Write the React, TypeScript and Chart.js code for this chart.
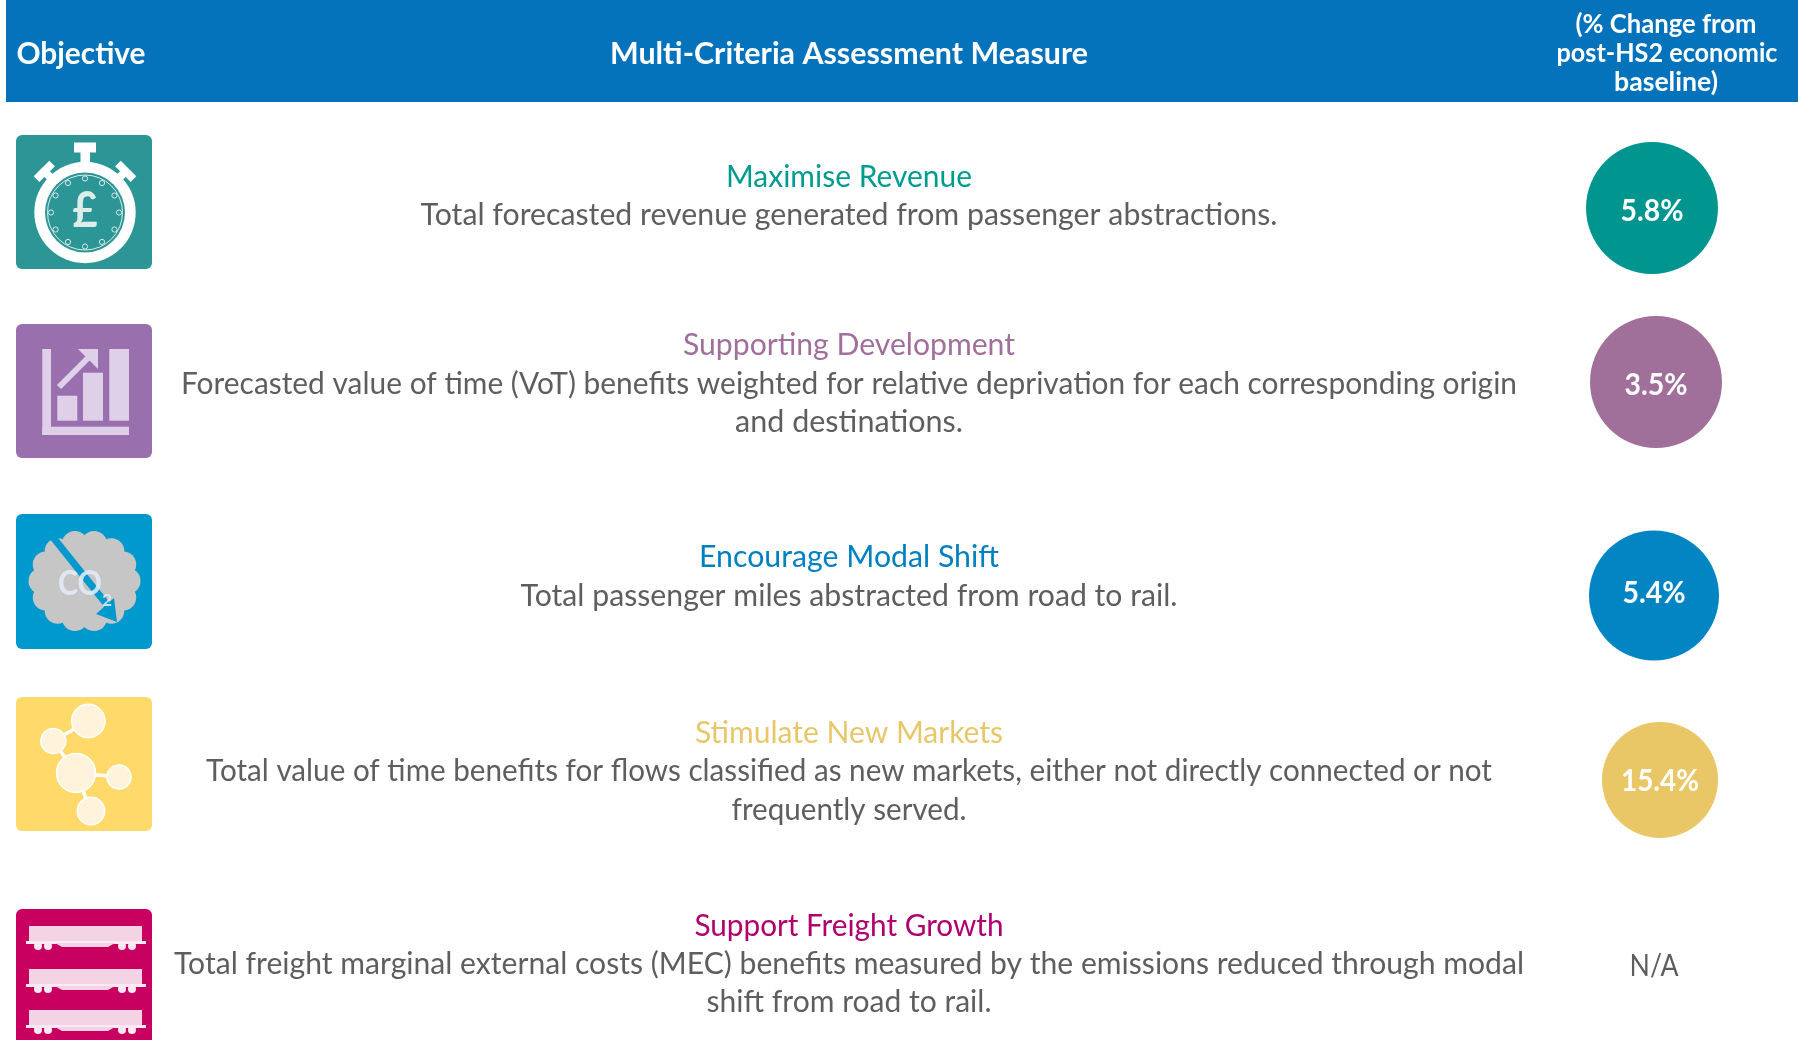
import React, { useEffect, useRef } from "react";
import { Chart, registerables, CategoryScale } from "chart.js";

// ---------- data ----------
const objectives = [
  "Maximise Revenue",
  "Supporting Development",
  "Encourage Modal Shift",
  "Stimulate New Markets",
  "Support Freight Growth",
];
const changeValues = [5.8, 3.5, 5.4, 15.4, null];
const changeLabels = changeValues.map((v) => (v === null ? "N/A" : `${v}%`));
const measureLines = [
  ["Total forecasted revenue generated from passenger abstractions."],
  [
    "Forecasted value of time (VoT) benefits weighted for relative deprivation for each corresponding origin",
    "and destinations.",
  ],
  ["Total passenger miles abstracted from road to rail."],
  [
    "Total value of time benefits for flows classified as new markets, either not directly connected or not",
    "frequently served.",
  ],
  [
    "Total freight marginal external costs (MEC) benefits measured by the emissions reduced through modal",
    "shift from road to rail.",
  ],
];
const headers = ["Objective", "Multi-Criteria Assessment Measure"];
const changeHeader = ["(% Change from", "post-HS2 economic", "baseline)"];

// ---------- layout & style (kept apart from the data) ----------
const W = 1798;
const H = 1040;
const BADGE_X = [1652, 1656, 1654, 1660, 1654];
const ROW_Y = [208, 382, 595.5, 780, 965];
const BADGE_R = [66, 66, 65, 58];
const BADGE_BASE = [12.7, 13, 7, 11, 11];
const BADGE_W = [63, 63, 63, 78, 49];
const BADGE_COL = ["#00968F", "#A0709A", "#0285C2", "#E9C766"];
const TITLE_COL = ["#009B8F", "#A0709A", "#0080C0", "#E8C66A", "#B0006E"];
const TITLE_BASE = [187, 355, 567, 743, 936];
const TITLE_W = [246, 332, 300, 308, 309];
const DESC_BASE = [[224.5], [394, 432], [606], [781, 820], [974, 1012]];
const DESC_W = [[857], [1336, 228], [657], [1286, 235], [1350, 285]];
const MID_X = 849;
const BODY = "Lato";

class TableScale extends CategoryScale {
  static id = "table";
  getPixelForValue(value: any) {
    const i = typeof value === "number" ? value : (this as any).parse(value);
    return ((this as any).axis === "x" ? BADGE_X : ROW_Y)[i];
  }
}

Chart.register(...registerables, TableScale as any);

function fit(ctx: CanvasRenderingContext2D, text: string, cx: number, y: number, w: number) {
  ctx.save();
  ctx.textAlign = "center";
  ctx.textBaseline = "alphabetic";
  const natural = ctx.measureText(text).width;
  ctx.translate(cx, y);
  ctx.scale(w / natural, 1);
  ctx.fillText(text, 0, 0);
  ctx.restore();
}

function box(ctx: CanvasRenderingContext2D, top: number, bottom: number, col: string) {
  ctx.fillStyle = col;
  ctx.beginPath();
  ctx.roundRect(16, top, 136, bottom - top, 6);
  ctx.fill();
}

function disc(ctx: CanvasRenderingContext2D, x: number, y: number, r: number) {
  ctx.beginPath();
  ctx.arc(x, y, r, 0, Math.PI * 2);
  ctx.fill();
}

function stopwatch(ctx: CanvasRenderingContext2D) {
  box(ctx, 135, 269, "#2C9595");
  const cx = 85, cy = 212.5;
  ctx.fillStyle = "#FFFFFF";
  ctx.fillRect(74, 142.5, 22, 10);
  ctx.fillRect(80.5, 152, 9.5, 14);
  for (const [kx, ang] of [[45, -Math.PI / 4], [125, Math.PI / 4]] as [number, number][]) {
    ctx.save();
    ctx.translate(kx, 172);
    ctx.rotate(ang);
    ctx.fillRect(-11, -5, 22, 8);
    ctx.fillRect(-4, 2, 8, 10);
    ctx.restore();
  }
  disc(ctx, cx, cy, 50.7);
  ctx.fillStyle = "#2C9595";
  disc(ctx, cx, cy, 40);
  ctx.strokeStyle = "#D8ECEA";
  ctx.lineWidth = 1;
  ctx.beginPath();
  ctx.arc(cx, cy, 37.5, 0, Math.PI * 2);
  ctx.stroke();
  for (let k = 0; k < 12; k++) {
    const a = (k * Math.PI) / 6;
    ctx.fillStyle = "#2C9595";
    ctx.beginPath();
    ctx.arc(cx + Math.cos(a) * 34, cy + Math.sin(a) * 34, 2.6, 0, Math.PI * 2);
    ctx.fill();
    ctx.stroke();
  }
  ctx.fillStyle = "#DCEEEA";
  ctx.font = `700 50px ${BODY}`;
  fit(ctx, "£", 85, 227, 25);
}

function barsIcon(ctx: CanvasRenderingContext2D) {
  box(ctx, 324, 458, "#9A6FAE");
  ctx.fillStyle = "#DDD0E8";
  ctx.fillRect(42.3, 349, 8.7, 86);
  ctx.fillRect(42.3, 426.7, 86.7, 8.3);
  ctx.fillRect(57.3, 395.7, 20, 25);
  ctx.fillRect(83, 372.7, 20, 48);
  ctx.fillRect(109.3, 349, 19.7, 71.7);
  ctx.strokeStyle = "#DDD0E8";
  ctx.lineWidth = 6;
  ctx.beginPath();
  ctx.moveTo(59, 387);
  ctx.lineTo(92, 354);
  ctx.stroke();
  ctx.beginPath();
  ctx.moveTo(78, 349);
  ctx.lineTo(98, 349);
  ctx.lineTo(98, 369);
  ctx.closePath();
  ctx.fill();
}

function cloudIcon(ctx: CanvasRenderingContext2D) {
  box(ctx, 514, 649, "#0099CE");
  const cx = 84.5, cy = 581;
  ctx.fillStyle = "#C6C6C6";
  ctx.beginPath();
  ctx.ellipse(cx, cy, 46, 42, 0, 0, Math.PI * 2);
  ctx.fill();
  for (let k = 0; k < 14; k++) {
    const a = (k * Math.PI) / 7;
    disc(ctx, cx + Math.cos(a) * 43, cy + Math.sin(a) * 38, 13);
  }
  ctx.strokeStyle = "#0099CE";
  ctx.lineWidth = 7;
  ctx.beginPath();
  ctx.moveTo(52, 536);
  ctx.lineTo(108, 606);
  ctx.stroke();
  ctx.fillStyle = "#0099CE";
  ctx.beginPath();
  ctx.moveTo(117, 622);
  ctx.lineTo(96, 614);
  ctx.lineTo(114, 598);
  ctx.closePath();
  ctx.fill();
  ctx.fillStyle = "rgba(226,236,246,0.88)";
  ctx.font = `700 34px ${BODY}`;
  fit(ctx, "CO", 80, 595, 44);
  ctx.font = `700 17px ${BODY}`;
  fit(ctx, "2", 107, 606, 10);
}

function nodesIcon(ctx: CanvasRenderingContext2D) {
  box(ctx, 697, 831, "#FFD96A");
  const nodes = [
    [76, 773, 19.5],
    [88.3, 721, 16.7],
    [53.3, 741, 12.5],
    [119, 777, 12],
    [91, 811, 13.7],
  ];
  ctx.strokeStyle = "#FFFFFF";
  ctx.lineWidth = 3.5;
  const links = [[1, 2], [2, 0], [0, 3], [0, 4]];
  for (const [a, b] of links) {
    ctx.beginPath();
    ctx.moveTo(nodes[a][0], nodes[a][1]);
    ctx.lineTo(nodes[b][0], nodes[b][1]);
    ctx.stroke();
  }
  ctx.lineWidth = 1.5;
  for (const [x, y, r] of nodes) {
    ctx.fillStyle = "#FFF3DC";
    disc(ctx, x, y, r);
    ctx.beginPath();
    ctx.arc(x, y, r, 0, Math.PI * 2);
    ctx.stroke();
  }
}

function wagon(ctx: CanvasRenderingContext2D, top: number) {
  ctx.fillStyle = "#F3D3E4";
  ctx.fillRect(29, top, 113, 16);
  ctx.fillStyle = "#FBE9F3";
  ctx.fillRect(26, top + 15, 120, 3);
  ctx.fillStyle = "#F3D3E4";
  ctx.beginPath();
  ctx.moveTo(55, top + 17);
  ctx.lineTo(115, top + 17);
  ctx.lineTo(108, top + 21);
  ctx.lineTo(62, top + 21);
  ctx.closePath();
  ctx.fill();
  ctx.fillStyle = "#FBE9F3";
  for (const x of [38, 48, 122, 132]) disc(ctx, x, top + 20, 4);
}

function wagonsIcon(ctx: CanvasRenderingContext2D) {
  box(ctx, 909, 1060, "#C8005F");
  wagon(ctx, 926);
  wagon(ctx, 969);
  wagon(ctx, 1010);
}

const tablePlugin = {
  id: "table",
  beforeDatasetsDraw(chart: any) {
    const ctx: CanvasRenderingContext2D = chart.ctx;
    ctx.save();
    // header band
    ctx.fillStyle = "#0572BC";
    ctx.fillRect(6, 0, W - 6, 102);
    ctx.fillStyle = "#FFFFFF";
    ctx.font = `700 30px ${BODY}`;
    fit(ctx, headers[0], 81, 64, 129);
    fit(ctx, headers[1], MID_X, 64, 478);
    ctx.font = `700 26px ${BODY}`;
    fit(ctx, changeHeader[0], 1666, 33, 181);
    fit(ctx, changeHeader[1], 1667, 62, 221);
    fit(ctx, changeHeader[2], 1666, 91, 104);
    // icons
    stopwatch(ctx);
    barsIcon(ctx);
    cloudIcon(ctx);
    nodesIcon(ctx);
    wagonsIcon(ctx);
    // row text
    objectives.forEach((t, i) => {
      ctx.font = `400 30px ${BODY}`;
      ctx.fillStyle = TITLE_COL[i];
      fit(ctx, t, MID_X, TITLE_BASE[i], TITLE_W[i]);
      ctx.fillStyle = "#5E5E5E";
      measureLines[i].forEach((line, j) => {
        fit(ctx, line, MID_X, DESC_BASE[i][j], DESC_W[i][j]);
      });
    });
    ctx.restore();
  },
  afterDatasetsDraw(chart: any) {
    const ctx: CanvasRenderingContext2D = chart.ctx;
    ctx.save();
    changeLabels.forEach((t, i) => {
      const x = chart.scales.x.getPixelForValue(i);
      const y = chart.scales.y.getPixelForValue(i);
      const hasValue = changeValues[i] !== null;
      ctx.font = hasValue ? `700 31px ${BODY}` : `400 31px ${BODY}`;
      ctx.fillStyle = hasValue ? "#FFFFFF" : "#5E5E5E";
      fit(ctx, t, x, y + BADGE_BASE[i], BADGE_W[i]);
    });
    ctx.restore();
  },
};

export default function App() {
  const ref = useRef<HTMLCanvasElement>(null);
  useEffect(() => {
    document.body.style.margin = "0";
    const points = changeValues.flatMap((v, i) =>
      v === null ? [] : [{ x: changeLabels[i], y: objectives[i], r: BADGE_R[i] }]
    );
    const chart = new Chart(ref.current as HTMLCanvasElement, {
      type: "bubble",
      data: {
        datasets: [
          {
            label: "% Change from post-HS2 economic baseline",
            data: points as any,
            backgroundColor: BADGE_COL,
            borderWidth: 0,
            clip: false as any,
          },
        ],
      },
      options: {
        animation: false,
        responsive: false,
        events: [],
        layout: { padding: 0 },
        plugins: { legend: { display: false }, tooltip: { enabled: false } },
        scales: {
          x: { type: "table" as any, labels: changeLabels as any, display: false },
          y: { type: "table" as any, labels: objectives as any, display: false },
        },
      },
      plugins: [tablePlugin as any],
    });
    return () => chart.destroy();
  }, []);
  return (
    <div style={{ width: W, height: H, overflow: "hidden", background: "#FFFFFF" }}>
      <canvas ref={ref} width={W} height={H} style={{ display: "block" }} />
    </div>
  );
}
